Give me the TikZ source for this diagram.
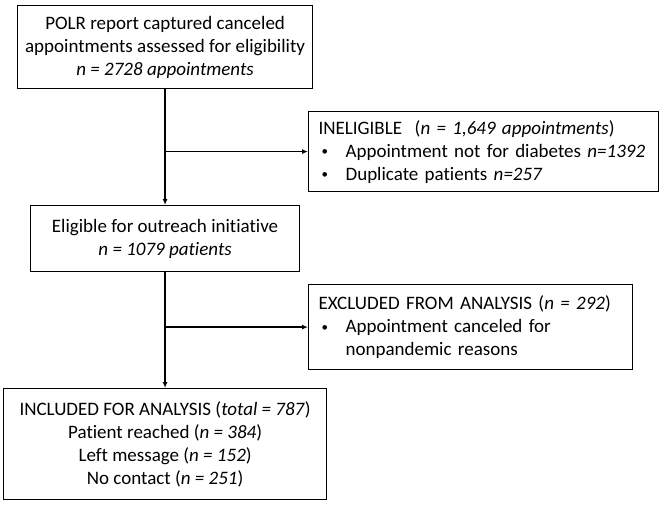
\documentclass[tikz,border=0pt]{standalone}
\usepackage{fontspec}
\setmainfont[Ligatures=NoCommon]{Carlito}
\usetikzlibrary{arrows.meta}
\newcommand{\smbul}{\makebox[27pt][l]{\hspace{3pt}\raisebox{1.5pt}{\fontsize{13}{13}\selectfont •}}}
\begin{document}
\begin{tikzpicture}[x=1pt,y=-1pt,
  box/.style={draw, line width=1.2pt, inner xsep=10pt, inner ysep=0pt,
    font=\fontsize{19}{23}\selectfont, anchor=north west},
  cbox/.style={box, inner xsep=1pt, align=center},
  arr/.style={line width=1.3pt, -{Latex[length=6pt,width=5pt]}}]
\useasboundingbox (0,0) rectangle (664,506);
\node[cbox, minimum width=295, minimum height=83] (polr) at (17,5)
  {POLR report captured canceled\\appointments assessed for eligibility\\\textit{n = 2728 appointments}};
\node[box, minimum width=350, minimum height=80, text width=330, align=left] (inel) at (308,111)
  {INELIGIBLE\ \ (\textit{n = 1,649 appointments})\\
   \smbul Appointment not for diabetes \textit{n=1392}\\
   \smbul Duplicate patients \textit{n=257}};
\node[cbox, minimum width=269, minimum height=66] (elig) at (30,205)
  {Eligible for outreach initiative\\\textit{n = 1079 patients}};
\node[box, minimum width=324, minimum height=85, text width=304, align=left] (excl) at (308,284)
  {EXCLUDED FROM ANALYSIS (\textit{n = 292})\\
   \smbul Appointment canceled for\\
   \hspace*{27pt}nonpandemic reasons};
\node[cbox, minimum width=323, minimum height=111] (incl) at (3,388)
  {INCLUDED FOR ANALYSIS (\textit{total = 787})\\Patient reached (\textit{n = 384})\\Left message (\textit{n = 152})\\No contact (\textit{n = 251})};
\coordinate (b1) at (polr.south |- inel.west);
\coordinate (b2) at (elig.south |- excl.west);
\draw[arr] (polr.south) -- (elig.north);
\draw[arr] (b1) -- (inel.west);
\draw[arr] (elig.south) -- (incl.north);
\draw[arr] (b2) -- (excl.west);
\end{tikzpicture}
\end{document}
